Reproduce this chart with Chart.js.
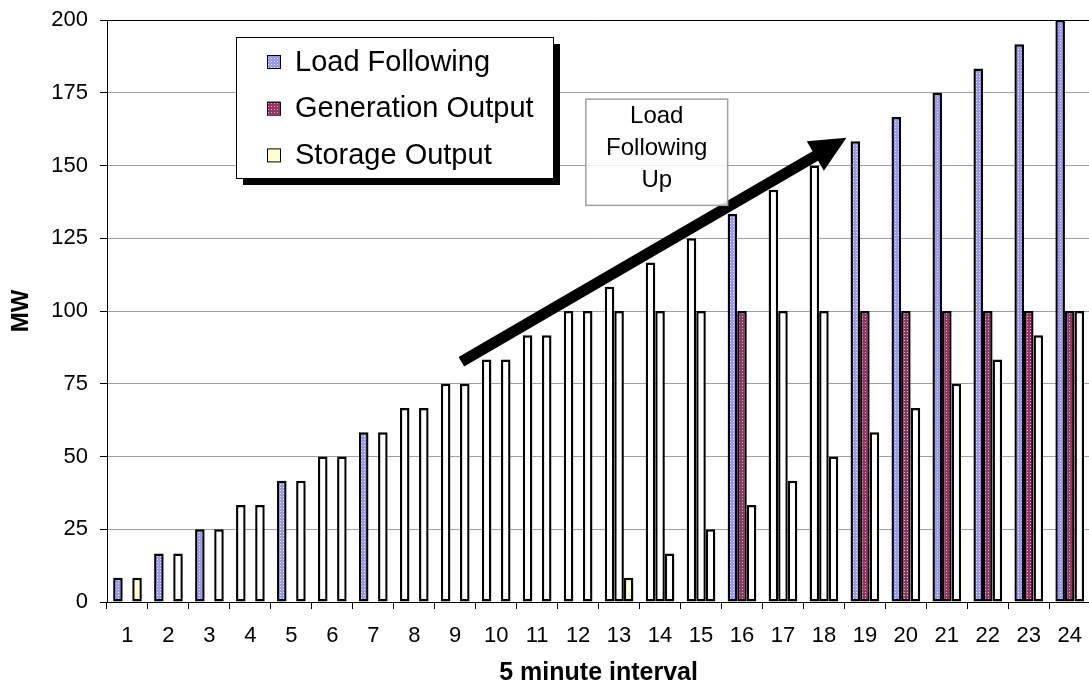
<!DOCTYPE html>
<html>
<head>
<meta charset="utf-8">
<title>Load Following</title>
<script src="https://cdn.jsdelivr.net/npm/chart.js@4.4.1/dist/chart.umd.min.js"></script>
<style>
  html, body { margin: 0; padding: 0; background: #fff; overflow: hidden; }
  #chartWrap { width: 1096px; height: 689px; }
</style>
</head>
<body>
<div id="chartWrap"><canvas id="chartLoad" width="1096" height="689"></canvas></div>
<script>
// ===============================
// DATA
// ===============================
const intervals = ["1", "2", "3", "4", "5", "6", "7", "8", "9", "10", "11", "12",
                   "13", "14", "15", "16", "17", "18", "19", "20", "21", "22", "23", "24"];

const loadFollowing = [8.33, 16.67, 25, 33.33, 41.67, 50, 58.33, 66.67, 75, 83.33, 91.67, 100,
                       108.33, 116.67, 125, 133.33, 141.67, 150, 158.33, 166.67, 175, 183.33, 191.67, 200];

const generationOutput = [0, 0, 0, 0, 0, 0, 0, 0, 0, 0, 0, 0,
                          100, 100, 100, 100, 100, 100, 100, 100, 100, 100, 100, 100];

const storageOutput = [8.33, 16.67, 25, 33.33, 41.67, 50, 58.33, 66.67, 75, 83.33, 91.67, 100,
                       8.33, 16.67, 25, 33.33, 41.67, 50, 58.33, 66.67, 75, 83.33, 91.67, 100];

const yTicks = [0, 25, 50, 75, 100, 125, 150, 175, 200];

// intervals whose bars are drawn filled (the rest come out white in the original)
const loadFilled    = [1, 2, 3, 5, 7, 16, 19, 20, 21, 22, 23, 24];
const genFilled     = [16, 19, 20, 21, 22, 23, 24];
const storageFilled = [1, 13];

// annotation (data units: x = category index, y = MW)
const arrowFrom = { x: 8.15, y: 82.6 };
const arrowTo   = { x: 17.55, y: 159.5 };
const noteBox   = { x0: 11.19, x1: 14.65, y0: 172.8, y1: 136.3 };
const noteText  = ["Load", "Following", "Up"];

// ===============================
// HELPERS
// ===============================
const FONT = "'Liberation Sans', Arial, Helvetica, sans-serif";

function makePattern(base, dot) {
  const c = document.createElement("canvas");
  c.width = 3;
  c.height = 3;
  const g = c.getContext("2d");
  g.fillStyle = base;
  g.fillRect(0, 0, 3, 3);
  g.fillStyle = dot;
  g.fillRect(1, 1, 1, 1);
  return g.createPattern(c, "repeat");
}

const blueFill   = makePattern("#9898f6", "#e8e8ff");
const maroonFill = makePattern("#993366", "#e6b0cc");
const yellowFill = "#ffffcc";

function fills(filled, fill) {
  return intervals.map((lbl, i) => filled.includes(i + 1) ? fill : "#ffffff");
}

// ===============================
// EXTRA DRAWING (arrow, note, legend)
// ===============================
const overlayPlugin = {
  id: "overlay",
  afterDatasetsDraw(chart) {
    const ctx = chart.ctx;
    const xs = chart.scales.x;
    const ys = chart.scales.y;
    const area = chart.chartArea;

    // --- arrow
    const x1 = xs.getPixelForValue(arrowFrom.x), y1 = ys.getPixelForValue(arrowFrom.y);
    const x2 = xs.getPixelForValue(arrowTo.x),   y2 = ys.getPixelForValue(arrowTo.y);
    const ang = Math.atan2(y2 - y1, x2 - x1);
    const headLen = 36, headHalf = 17;
    const bx = x2 - headLen * Math.cos(ang), by = y2 - headLen * Math.sin(ang);
    ctx.save();
    ctx.strokeStyle = "#000";
    ctx.fillStyle = "#000";
    ctx.lineWidth = 11;
    ctx.beginPath();
    ctx.moveTo(x1, y1);
    ctx.lineTo(bx + 2 * Math.cos(ang), by + 2 * Math.sin(ang));
    ctx.stroke();
    ctx.beginPath();
    ctx.moveTo(x2, y2);
    ctx.lineTo(bx - headHalf * Math.sin(ang), by + headHalf * Math.cos(ang));
    ctx.lineTo(bx + headHalf * Math.sin(ang), by - headHalf * Math.cos(ang));
    ctx.closePath();
    ctx.fill();
    ctx.restore();

    // --- note box
    const nx0 = xs.getPixelForValue(noteBox.x0), nx1 = xs.getPixelForValue(noteBox.x1);
    const ny0 = ys.getPixelForValue(noteBox.y0), ny1 = ys.getPixelForValue(noteBox.y1);
    ctx.save();
    ctx.fillStyle = "rgba(255,255,255,0.85)";
    ctx.fillRect(nx0, ny0, nx1 - nx0, ny1 - ny0);
    ctx.strokeStyle = "#a0a0a0";
    ctx.lineWidth = 1.5;
    ctx.strokeRect(nx0, ny0, nx1 - nx0, ny1 - ny0);
    ctx.fillStyle = "#000";
    ctx.font = "24px " + FONT;
    ctx.textAlign = "center";
    ctx.textBaseline = "middle";
    const cx = (nx0 + nx1) / 2;
    const cy = (ny0 + ny1) / 2 - 4;
    noteText.forEach((t, i) => {
      ctx.fillText(t, cx, cy + (i - 1) * 32);
    });
    ctx.restore();

    // --- legend with shadow
    const lx = area.left + 129, ly = area.top + 17, lw = 317, lh = 141;
    ctx.save();
    ctx.fillStyle = "#000";
    ctx.fillRect(lx + 7, ly + 7, lw, lh);
    ctx.fillStyle = "#fff";
    ctx.fillRect(lx, ly, lw, lh);
    ctx.strokeStyle = "#000";
    ctx.lineWidth = 1;
    ctx.strokeRect(lx + 0.5, ly + 0.5, lw, lh);
    const swatches = [blueFill, maroonFill, yellowFill];
    ctx.font = "29px " + FONT;
    ctx.textAlign = "left";
    ctx.textBaseline = "middle";
    chart.data.datasets.forEach((ds, i) => {
      const ry = ly + 24.5 + i * 46.7;
      ctx.fillStyle = swatches[i];
      ctx.fillRect(lx + 31, ry - 6.5, 13, 13);
      ctx.strokeStyle = "#000";
      ctx.strokeRect(lx + 31.5, ry - 6, 13, 13);
      ctx.fillStyle = "#000";
      ctx.fillText(ds.label, lx + 59, ry + 1);
    });
    ctx.restore();
  }
};

// ===============================
// CHART
// ===============================
new Chart(document.getElementById("chartLoad"), {
  type: "bar",
  data: {
    labels: intervals,
    datasets: [
      {
        label: "Load Following",
        data: loadFollowing,
        backgroundColor: fills(loadFilled, blueFill),
        borderColor: "#000",
        borderWidth: 2.4,
        borderSkipped: false
      },
      {
        label: "Generation Output",
        data: generationOutput,
        backgroundColor: fills(genFilled, maroonFill),
        borderColor: "#000",
        borderWidth: 2.4,
        borderSkipped: false
      },
      {
        label: "Storage Output",
        data: storageOutput,
        backgroundColor: fills(storageFilled, yellowFill),
        borderColor: "#000",
        borderWidth: 2.4,
        borderSkipped: false
      }
    ]
  },
  options: {
    responsive: false,
    animation: false,
    devicePixelRatio: 1,
    layout: { padding: { top: 20, right: 2, left: 0, bottom: 0 } },
    datasets: {
      bar: { categoryPercentage: 0.7, barPercentage: 1.0 }
    },
    plugins: {
      legend: { display: false },
      tooltip: { enabled: false }
    },
    scales: {
      x: {
        afterFit: s => { s.height = 87; },
        grid: {
          offset: true,
          drawOnChartArea: false,
          drawTicks: true,
          tickLength: 7,
          tickColor: "#000"
        },
        border: { display: true, color: "#000", width: 1 },
        ticks: {
          color: "#000",
          font: { family: FONT, size: 22 },
          padding: 14,
          autoSkip: false,
          maxRotation: 0
        },
        title: {
          display: true,
          text: "5 minute interval",
          color: "#000",
          font: { family: FONT, size: 25, weight: "bold", lineHeight: 1 },
          padding: { top: 0, bottom: 3.5 }
        }
      },
      y: {
        min: yTicks[0],
        max: yTicks[yTicks.length - 1],
        afterFit: s => {
          s.width = 107;
          s.paddingTop = 0;
          s.paddingBottom = 0;
        },
        ticks: {
          stepSize: yTicks[1] - yTicks[0],
          color: "#000",
          font: { family: FONT, size: 22 },
          padding: 12
        },
        grid: {
          color: c => (c.tick && c.tick.value === yTicks[yTicks.length - 1]) ? "#000" : "#a0a0a0",
          lineWidth: 1,
          drawTicks: true,
          tickLength: 7,
          tickColor: "#000"
        },
        border: { display: true, color: "#000", width: 1 },
        title: {
          display: true,
          text: "MW",
          color: "#000",
          font: { family: FONT, size: 24, weight: "bold", lineHeight: 1 },
          padding: { top: 9, bottom: 0 }
        }
      }
    }
  },
  plugins: [overlayPlugin]
});
</script>
</body>
</html>
